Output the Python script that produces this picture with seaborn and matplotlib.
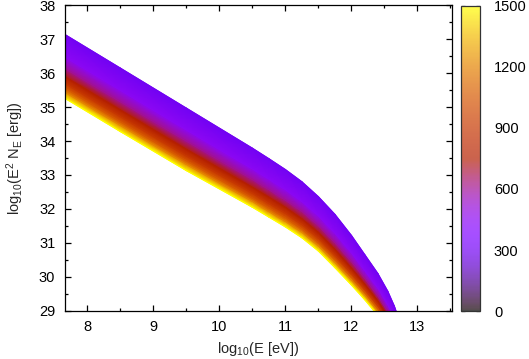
import numpy as np
import pandas as pd
import matplotlib
matplotlib.use("Agg")
import matplotlib.pyplot as plt
import matplotlib.colors as mcolors
from matplotlib.ticker import MultipleLocator
import seaborn as sns

# ---- data ----
log_E = [7.66, 8.5, 9.5, 10.5, 10.75, 11.0, 11.25, 11.5, 11.75, 12.0, 12.2, 12.4,
         12.55, 12.65, 12.72, 12.8]
t_values = [300, 450, 600, 750, 900, 1050, 1200, 1500]
spec_t300 = [37.14, 36.15, 34.97, 33.79, 33.48, 33.16, 32.80, 32.36, 31.84, 31.22,
             30.66, 30.10, 29.58, 29.14, 28.75, 28.30]
spec_t450 = [36.48, 35.50, 34.33, 33.18, 32.88, 32.57, 32.22, 31.80, 31.29, 30.71,
             30.19, 29.67, 29.18, 28.79, 28.45, 28.06]
spec_t600 = [36.14, 35.16, 34.00, 32.87, 32.57, 32.26, 31.93, 31.51, 31.01, 30.45,
             29.96, 29.44, 28.98, 28.62, 28.30, 27.93]
spec_t750 = [35.89, 34.91, 33.75, 32.63, 32.34, 32.04, 31.70, 31.30, 30.80, 30.25,
             29.78, 29.28, 28.83, 28.48, 28.19, 27.83]
spec_t900 = [35.70, 34.72, 33.56, 32.46, 32.16, 31.87, 31.54, 31.14, 30.64, 30.10,
             29.64, 29.15, 28.72, 28.38, 28.10, 27.76]
spec_t1050 = [35.56, 34.57, 33.42, 32.32, 32.03, 31.74, 31.41, 31.01, 30.52, 29.99,
              29.54, 29.06, 28.63, 28.31, 28.03, 27.71]
spec_t1200 = [35.44, 34.46, 33.31, 32.22, 31.92, 31.63, 31.31, 30.91, 30.42, 29.90,
              29.46, 28.98, 28.56, 28.24, 27.98, 27.67]
spec_t1500 = [35.26, 34.28, 33.13, 32.05, 31.76, 31.47, 31.15, 30.76, 30.27, 29.76,
              29.33, 28.86, 28.45, 28.15, 27.90, 27.60]
cbar_ticks = [0, 300, 600, 900, 1200, 1500]

curves = [spec_t300, spec_t450, spec_t600, spec_t750, spec_t900, spec_t1050,
          spec_t1200, spec_t1500]

sns.set_theme(style="ticks")
plt.rcParams["font.family"] = ["Liberation Sans", "DejaVu Sans"]
plt.rcParams["mathtext.default"] = "regular"
plt.rcParams["axes.linewidth"] = 0.9

fig = plt.figure(figsize=(5.29, 3.59), dpi=100)
ax = fig.add_axes([65 / 529, 1 - 310.7 / 359, 386.7 / 529, 305.4 / 359])
cax = fig.add_axes([460.7 / 529, 1 - 311.2 / 359, 19.3 / 529, 305.6 / 359])

cmap = plt.get_cmap("gnuplot")
norm = mcolors.Normalize(vmin=0, vmax=1500)

X = np.array([log_E for _ in t_values])
Y = np.array(curves)
C = np.array([[t] * len(log_E) for t in t_values], dtype=float)
ax.pcolormesh(X, Y, C, shading="gouraud", cmap=cmap, norm=norm, antialiased=True)

df = pd.DataFrame({
    "logE": np.concatenate([log_E for _ in t_values]),
    "y": np.concatenate(curves),
    "t": np.repeat(t_values, len(log_E)),
})
sns.lineplot(data=df, x="logE", y="y", hue="t", palette=cmap, hue_norm=norm,
             estimator=None, sort=False, legend=False, linewidth=0.8, ax=ax)

ax.set_xlim(7.662, 13.52)
ax.set_ylim(29, 38)
ax.xaxis.set_major_locator(MultipleLocator(1))
ax.xaxis.set_minor_locator(MultipleLocator(0.5))
ax.yaxis.set_major_locator(MultipleLocator(1))
ax.yaxis.set_minor_locator(MultipleLocator(0.5))
ax.tick_params(which="both", direction="in", top=True, right=True, colors="black",
               labelsize=10.5)
ax.tick_params(which="major", length=4.5, width=0.9, pad=7)
ax.tick_params(which="minor", length=2.5, width=0.9)
for s in ax.spines.values():
    s.set_color("black")
ax.set_xlabel("log$_{10}$(E [eV])", fontsize=10.5, labelpad=4)
ax.set_ylabel("log$_{10}$(E$^2$ N$_E$ [erg])", fontsize=10.5, labelpad=9)

# colorbar (semi-transparent palette as in the reference)
base = cmap(np.linspace(0, 1, 256))
faded = base.copy()
faded[:, :3] = base[:, :3] * 0.7 + 0.3
cmap_bar = mcolors.ListedColormap(faded)
sm = matplotlib.cm.ScalarMappable(norm=norm, cmap=cmap_bar)
cb = fig.colorbar(sm, cax=cax, ticks=cbar_ticks)
cb.outline.set_edgecolor("#333333")
cb.outline.set_linewidth(0.9)
cax.tick_params(direction="in", left=True, right=True, length=3, width=0.9,
                colors="#222222", labelsize=10.5, pad=10)
cax.yaxis.set_ticklabels([str(v) for v in cbar_ticks])
for lab in cax.get_yticklabels():
    lab.set_color("black")

fig.savefig("out.png", dpi=100)
